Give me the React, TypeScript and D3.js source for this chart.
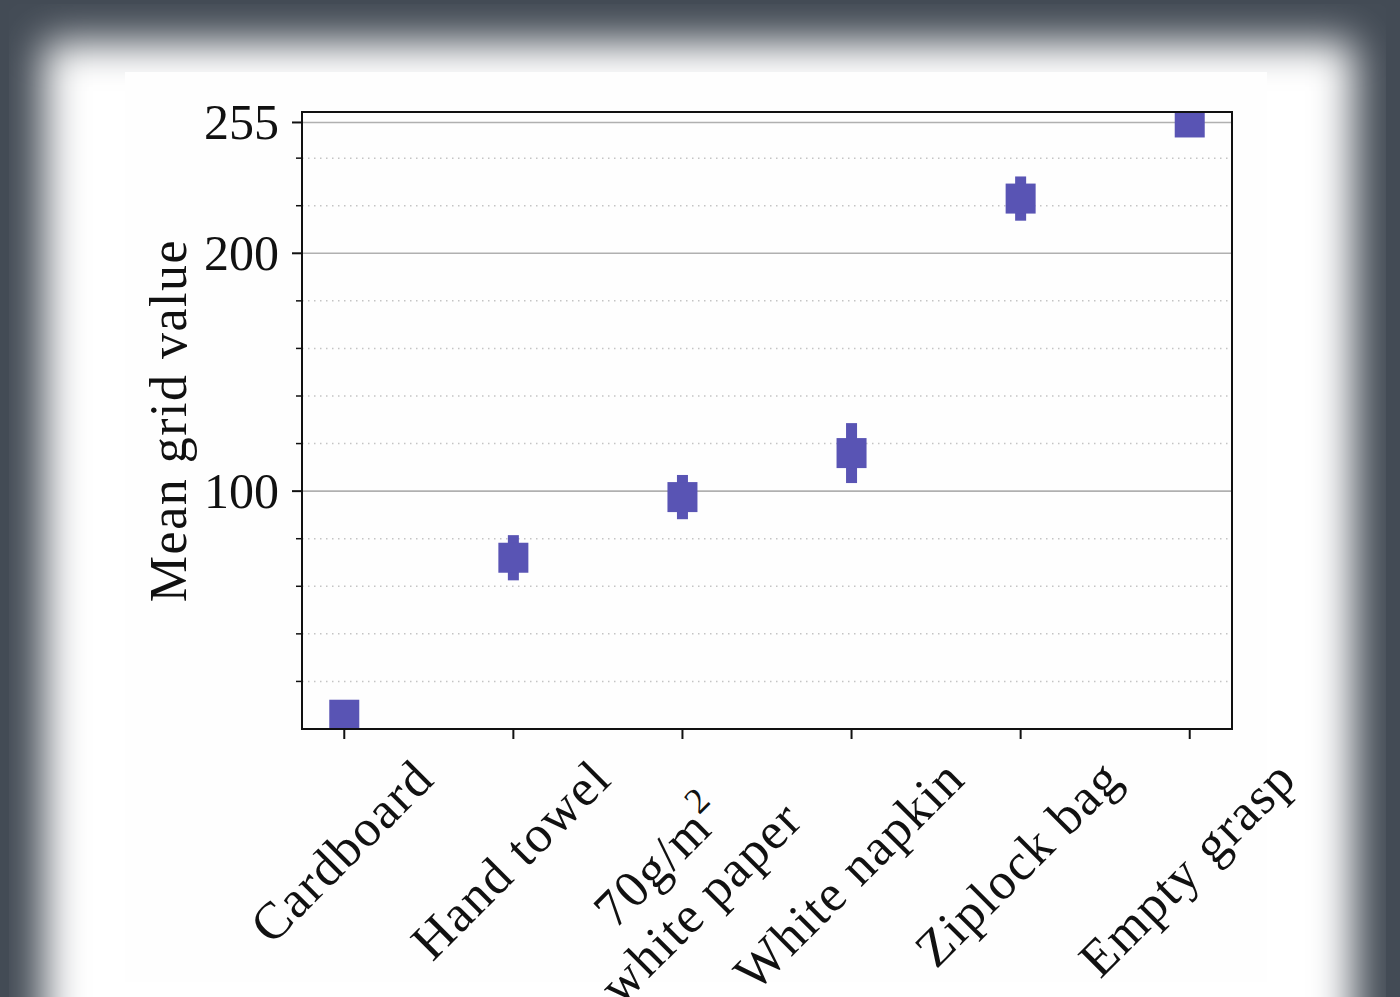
import React, { useEffect, useRef } from 'react'
import * as d3 from 'd3'

// values
const categories = ['Cardboard', 'Hand towel', '70g/m^2\nwhite paper', 'White napkin', 'Ziplock bag', 'Empty grasp']
const means = [6, 72, 97.5, 116, 223, 255]
const errors = [0, 9.5, 9.3, 12.6, 9.3, 0]
const majorTicks = [100, 200, 255]
const minorTicks = [20, 40, 60, 80, 120, 140, 160, 180, 220, 240]

const W = 1400, H = 997
const margin = { left: 302, right: 1232, top: 112, bottom: 729 }
const color = '#5954b4'
const font = '"Liberation Serif", "Times New Roman", serif'
const fs = 50
const lfs = 52

export default function App() {
  const ref = useRef<SVGSVGElement>(null)

  useEffect(() => {
    const svg = d3.select(ref.current)
    svg.selectAll('*').remove()

    // page frame: dark border with a soft white card
    const defs = svg.append('defs')
    defs.append('filter').attr('id', 'blur')
      .attr('x', '-10%').attr('y', '-10%').attr('width', '120%').attr('height', '120%')
      .append('feGaussianBlur').attr('stdDeviation', 20)
    defs.append('clipPath').attr('id', 'plotclip')
      .append('rect')
      .attr('x', margin.left).attr('y', margin.top)
      .attr('width', margin.right - margin.left).attr('height', margin.bottom - margin.top)

    svg.append('rect').attr('width', W).attr('height', H).attr('fill', '#434b55')
    svg.append('rect').attr('x', 44).attr('y', 42).attr('width', 1310).attr('height', 1100)
      .attr('fill', '#ffffff').attr('filter', 'url(#blur)')
    svg.append('rect').attr('x', 0).attr('y', 0).attr('width', 9).attr('height', H).attr('fill', '#434b55')
    svg.append('rect').attr('x', 1386).attr('y', 0).attr('width', 14).attr('height', H).attr('fill', '#434b55')
    svg.append('rect').attr('x', 0).attr('y', 0).attr('width', W).attr('height', 4).attr('fill', '#434b55')
    svg.append('rect').attr('x', 125).attr('y', 72).attr('width', 1142).attr('height', 910).attr('fill', '#fefefe')

    const x = d3.scalePoint<string>().domain(categories).range([margin.left, margin.right]).padding(0.25)
    const y = d3.scaleLinear().domain([0, 259.4]).range([margin.bottom, margin.top])

    const g = svg.append('g')

    // grid
    g.selectAll('.minor').data(minorTicks).enter().append('line')
      .attr('x1', margin.left).attr('x2', margin.right)
      .attr('y1', d => y(d)).attr('y2', d => y(d))
      .attr('stroke', '#c4c4c4').attr('stroke-width', 1.5).attr('stroke-dasharray', '1.5,4.5')
    g.selectAll('.major').data(majorTicks).enter().append('line')
      .attr('x1', margin.left).attr('x2', margin.right)
      .attr('y1', d => y(d)).attr('y2', d => y(d))
      .attr('stroke', '#b0b0b0').attr('stroke-width', 1.6)

    // points with error bars
    const pts = g.append('g').attr('clip-path', 'url(#plotclip)')
    pts.selectAll('.err').data(means).enter().append('rect')
      .attr('x', (d, i) => x(categories[i])! - 5.5).attr('width', 11)
      .attr('y', (d, i) => y(d + errors[i]))
      .attr('height', (d, i) => y(d - errors[i]) - y(d + errors[i]))
      .attr('fill', color)
    pts.selectAll('.pt').data(means).enter().append('rect')
      .attr('x', (d, i) => x(categories[i])! - 15).attr('y', d => y(d) - 15)
      .attr('width', 30).attr('height', 30).attr('fill', color)

    // spines
    g.append('rect')
      .attr('x', margin.left).attr('y', margin.top)
      .attr('width', margin.right - margin.left).attr('height', margin.bottom - margin.top)
      .attr('fill', 'none').attr('stroke', '#111').attr('stroke-width', 2)

    // y ticks
    g.selectAll('.ytm').data(majorTicks).enter().append('line')
      .attr('x1', margin.left - 10).attr('x2', margin.left)
      .attr('y1', d => y(d)).attr('y2', d => y(d))
      .attr('stroke', '#111').attr('stroke-width', 2)
    g.selectAll('.ytn').data(minorTicks).enter().append('line')
      .attr('x1', margin.left - 6).attr('x2', margin.left)
      .attr('y1', d => y(d)).attr('y2', d => y(d))
      .attr('stroke', '#111').attr('stroke-width', 1.5)
    g.selectAll('.ytl').data(majorTicks).enter().append('text')
      .attr('x', 279).attr('y', d => y(d) + 17)
      .attr('text-anchor', 'end').attr('font-family', font).attr('font-size', fs).attr('fill', '#111')
      .text(d => String(d))

    // x ticks
    g.selectAll('.xt').data(categories).enter().append('line')
      .attr('x1', d => x(d)!).attr('x2', d => x(d)!)
      .attr('y1', margin.bottom).attr('y2', margin.bottom + 10)
      .attr('stroke', '#111').attr('stroke-width', 2)

    // rotated x labels, centred on the tick like matplotlib ha='center'
    const lh = lfs * 1.12
    const top = 748
    categories.forEach(c => {
      const lines = c.split('\n')
      const lg = g.append('g')
      const texts = lines.map((ln, i) => {
        const t = lg.append('text')
          .attr('text-anchor', 'middle').attr('dominant-baseline', 'central')
          .attr('y', (i - (lines.length - 1) / 2) * lh)
          .attr('font-family', font).attr('font-size', lfs).attr('letter-spacing', 1.5).attr('fill', '#111')
        const parts = ln.split('^')
        t.append('tspan').text(parts[0])
        if (parts[1]) {
          t.append('tspan').attr('dy', -lfs * 0.3).attr('font-size', lfs * 0.7).text(parts[1])
        }
        return t
      })
      const wmax = d3.max(texts, t => (t.node() as SVGTextElement).getComputedTextLength()) || 0
      const hb = lines.length * lh
      const cy = top + (wmax + hb) / (2 * Math.SQRT2)
      lg.attr('transform', `translate(${x(c)! - 3},${cy}) rotate(-45)`)
    })

    // y label
    g.append('text')
      .attr('transform', `translate(186,${(margin.top + margin.bottom) / 2}) rotate(-90)`)
      .attr('text-anchor', 'middle').attr('font-family', font).attr('font-size', lfs)
      .attr('letter-spacing', 1.5).attr('fill', '#111')
      .text('Mean grid value')
  }, [])

  return (
    <svg ref={ref} width={W} height={H} style={{ position: 'absolute', left: 0, top: 0 }} />
  )
}
